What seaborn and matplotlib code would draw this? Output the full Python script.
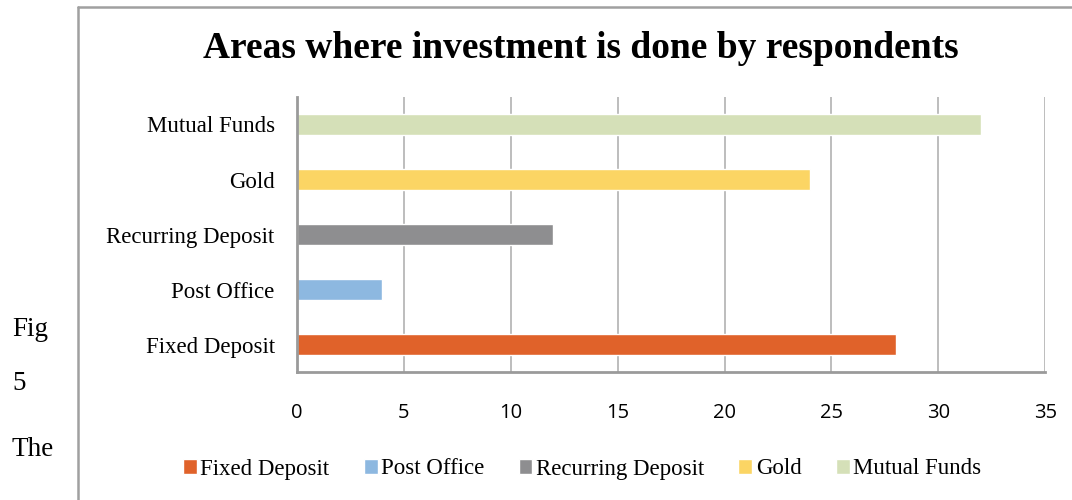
import matplotlib
matplotlib.use("Agg")
import matplotlib.pyplot as plt
from matplotlib.lines import Line2D
import seaborn as sns
import pandas as pd

# Investment areas, listed top to bottom as they appear on the chart
areas = ["Mutual Funds", "Gold", "Recurring Deposit", "Post Office", "Fixed Deposit"]
respondents = [32, 24, 12, 4, 28]

# Legend / colour order
legend_order = ["Fixed Deposit", "Post Office", "Recurring Deposit", "Gold", "Mutual Funds"]
colors = ["#E0622A", "#8DB8E0", "#8E8E90", "#FBD564", "#D5E0B8"]

x_ticks = [0, 5, 10, 15, 20, 25, 30, 35]

df = pd.DataFrame({"area": areas, "count": respondents})

sns.set_theme(style="white")
plt.rcParams["font.family"] = ["Liberation Serif", "DejaVu Serif"]
plt.rcParams["text.color"] = "#000000"
plt.rcParams["axes.labelcolor"] = "#000000"
plt.rcParams["xtick.color"] = "#000000"
plt.rcParams["ytick.color"] = "#000000"

fig = plt.figure(figsize=(10.72, 5.0), dpi=100)
ax = fig.add_axes([0.277, 0.256, 0.698, 0.550])

sns.barplot(
    data=df, x="count", y="area", hue="area",
    order=areas, hue_order=legend_order,
    palette=dict(zip(legend_order, colors)),
    dodge=False, width=0.37, saturation=1.0, ax=ax, legend=True,
)

ax.set_xlim(0, 35)
ax.set_xticks(x_ticks)
ax.set_xticklabels([str(t) for t in x_ticks], fontfamily="Open Sans", fontsize=14.5)
ax.tick_params(axis="x", length=0, pad=22, labelcolor="#000000")
ax.tick_params(axis="y", length=0, pad=16, labelsize=16.5, labelcolor="#000000")
ax.set_xlabel("")
ax.set_ylabel("")

ax.grid(axis="x", color="#BDBDBD", linewidth=1.4)
ax.grid(axis="y", visible=False)
ax.set_axisbelow(True)

for side in ("top", "right"):
    ax.spines[side].set_visible(False)
for side in ("left", "bottom"):
    ax.spines[side].set_color("#9A9A9A")
    ax.spines[side].set_linewidth(2.0)

ax.set_title("Areas where investment is done by respondents",
             fontsize=27, fontweight="bold", pad=28, x=0.38, color="#000000")

handles, labels = ax.get_legend_handles_labels()
ax.get_legend().remove()
fig.legend(handles, labels, loc="center", bbox_to_anchor=(0.543, 0.062),
           ncol=5, frameon=False, fontsize=16.5, handlelength=0.6,
           handleheight=0.6, handletextpad=0.15, columnspacing=1.5,
           labelcolor="#000000")

# Frame around the chart area (left and top edges)
fig.add_artist(Line2D([78 / 1072, 78 / 1072], [0, 1 - 7 / 500],
                      transform=fig.transFigure, color="#A0A0A0", linewidth=1.8))
fig.add_artist(Line2D([78 / 1072, 1], [1 - 7 / 500, 1 - 7 / 500],
                      transform=fig.transFigure, color="#A0A0A0", linewidth=1.8))

# Surrounding document text in the left margin
for txt, ypx in [("Fig", 330), ("5", 383), ("The", 450)]:
    fig.text(12 / 1072, 1 - ypx / 500, txt, fontsize=19.5, va="center", ha="left",
             color="#000000")

fig.savefig("out.png", dpi=100)
